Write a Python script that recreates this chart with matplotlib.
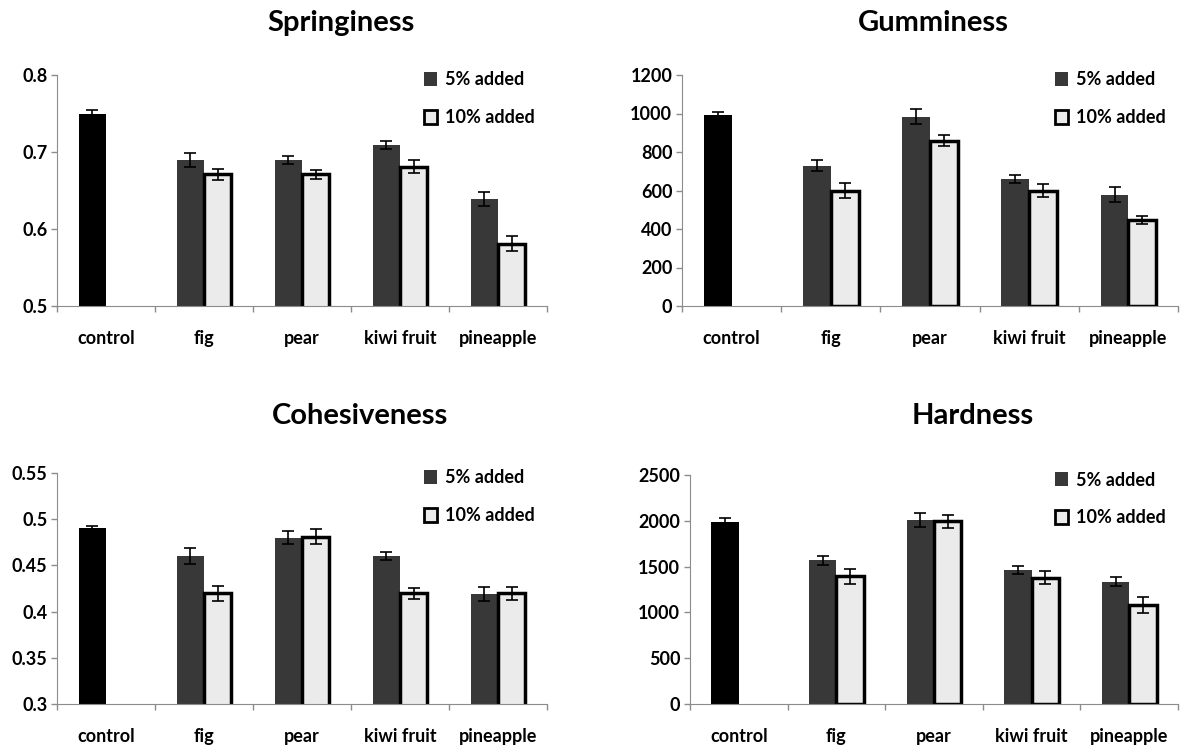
import numpy as np
import matplotlib
matplotlib.use("Agg")
import matplotlib.pyplot as plt
from matplotlib.patches import Patch

plt.rcParams['font.family'] = ['Lato', 'DejaVu Sans']
plt.rcParams['font.weight'] = 'bold'

categories = ["control", "fig", "pear", "kiwi fruit", "pineapple"]

spring_5 = [0.749, 0.690, 0.690, 0.709, 0.639]
spring_5_err = [0.005, 0.009, 0.005, 0.005, 0.009]
spring_10 = [np.nan, 0.671, 0.671, 0.681, 0.581]
spring_10_err = [np.nan, 0.007, 0.006, 0.008, 0.010]

gum_5 = [992, 729, 983, 658, 578]
gum_5_err = [14, 30, 38, 21, 39]
gum_10 = [np.nan, 599, 859, 599, 447]
gum_10_err = [np.nan, 40, 27, 35, 19]

coh_5 = [0.490, 0.460, 0.480, 0.460, 0.419]
coh_5_err = [0.003, 0.009, 0.007, 0.004, 0.008]
coh_10 = [np.nan, 0.420, 0.481, 0.420, 0.420]
coh_10_err = [np.nan, 0.008, 0.008, 0.006, 0.007]

hard_5 = [1982, 1569, 2011, 1467, 1337]
hard_5_err = [45, 47, 78, 43, 50]
hard_10 = [np.nan, 1395, 1993, 1380, 1083]
hard_10_err = [np.nan, 83, 70, 67, 90]

W, H = 1182, 751
fig = plt.figure(figsize=(W / 100, H / 100), dpi=100)

def px_axes(l, t, r, b):
    return fig.add_axes([l / W, 1 - b / H, (r - l) / W, (b - t) / H])

panels = [
    ("Springiness", (57, 75, 547, 306), spring_5, spring_5_err, spring_10, spring_10_err,
     (0.5, 0.8), [0.5, 0.6, 0.7, 0.8], ["0.5", "0.6", "0.7", "0.8"], (341, 23)),
    ("Gumminess", (682, 75, 1178, 306), gum_5, gum_5_err, gum_10, gum_10_err,
     (0, 1200), [0, 200, 400, 600, 800, 1000, 1200],
     ["0", "200", "400", "600", "800", "1000", "1200"], (933, 23)),
    ("Cohesiveness", (57, 473, 547, 704), coh_5, coh_5_err, coh_10, coh_10_err,
     (0.3, 0.55), [0.3, 0.35, 0.4, 0.45, 0.5, 0.55],
     ["0.3", "0.35", "0.4", "0.45", "0.5", "0.55"], (360, 416)),
    ("Hardness", (690, 475, 1178, 704), hard_5, hard_5_err, hard_10, hard_10_err,
     (0, 2500), [0, 500, 1000, 1500, 2000, 2500],
     ["0", "500", "1000", "1500", "2000", "2500"], (973, 416)),
]

dark = "#383838"
light = "#ebebeb"
axis_col = "#8c8c8c"
bw = 0.28

for title, box, v5, e5, v10, e10, ylim, yt, ytl, tpos in panels:
    ax = px_axes(*box)
    x = np.arange(len(categories))
    cols5 = ["black"] + [dark] * (len(categories) - 1)
    ax.bar(x - bw / 2, v5, width=bw, color=cols5, edgecolor="none", zorder=2)
    ax.errorbar(x - bw / 2, v5, yerr=e5, fmt="none", ecolor="black",
                elinewidth=1.2, capsize=4, capthick=1.2, zorder=3)
    ax.bar(x + bw / 2, v10, width=bw, color=light, edgecolor="black",
           linewidth=2.5, zorder=2)
    ax.errorbar(x + bw / 2, v10, yerr=e10, fmt="none", ecolor="black",
                elinewidth=1.2, capsize=4, capthick=1.2, zorder=3)
    ax.set_xlim(-0.5, len(categories) - 0.5)
    ax.set_ylim(*ylim)
    ax.set_yticks(yt)
    ax.set_yticklabels(ytl)
    ax.set_xticks(x)
    ax.set_xticklabels(categories)
    ax.set_xticks(np.arange(len(categories) + 1) - 0.5, minor=True)
    ax.tick_params(axis="x", which="major", length=0, pad=17, labelsize=13)
    ax.tick_params(axis="x", which="minor", length=4, color=axis_col, width=1)
    ax.tick_params(axis="y", length=4, color=axis_col, width=1, pad=3, labelsize=13)
    for lab in ax.get_xticklabels() + ax.get_yticklabels():
        lab.set_fontweight("bold")
    ax.spines["top"].set_visible(False)
    ax.spines["right"].set_visible(False)
    ax.spines["left"].set_color(axis_col)
    ax.spines["bottom"].set_color(axis_col)
    ax.set_facecolor("none")
    handles = [Patch(facecolor=dark, edgecolor="none", label="5% added"),
               Patch(facecolor=light, edgecolor="black", linewidth=2, label="10% added")]
    ax.legend(handles=handles, loc="upper right", bbox_to_anchor=(1.0, 1.07),
              frameon=False, handlelength=0.75, handleheight=0.8, handletextpad=0.4,
              labelspacing=1.15, borderaxespad=0.3,
              prop={"weight": "bold", "size": 13})
    fig.text(tpos[0] / W, 1 - tpos[1] / H, title, ha="center", va="center",
             fontsize=21, fontweight="bold")

fig.savefig("out.png", dpi=100)
